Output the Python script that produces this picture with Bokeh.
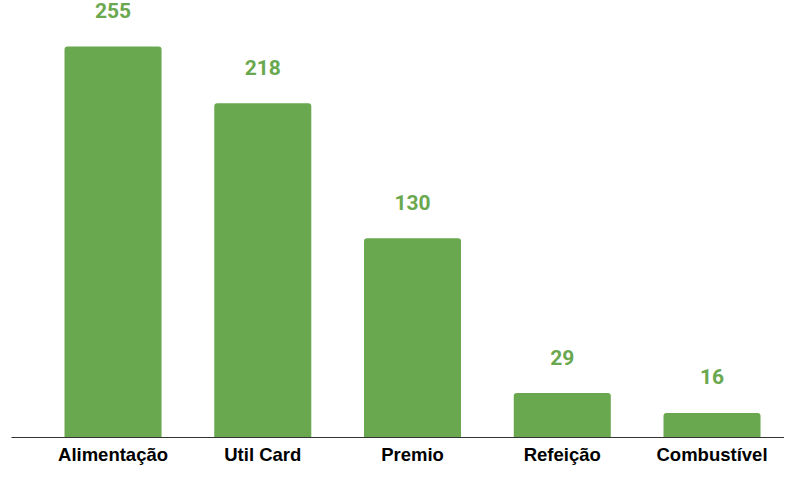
from bokeh.plotting import figure
from bokeh.models import Range1d, FixedTicker, ColumnDataSource
from bokeh.core.properties import value
from bokeh.embed import file_html
from bokeh.resources import INLINE

categories = ["Alimentação", "Util Card", "Premio", "Refeição", "Combustível"]
counts = [255, 218, 130, 29, 16]

GREEN = "#6aa84f"

positions = list(range(len(categories)))
source = ColumnDataSource(dict(
    x=positions,
    top=counts,
    label=[str(v) for v in counts],
))

p = figure(
    width=784, height=467,
    output_backend="svg", toolbar_location=None,
    x_range=Range1d(-0.678, 4.484),
    y_range=Range1d(0, 285.0),
    min_border_left=11, min_border_right=0,
    min_border_top=0, min_border_bottom=25,
    y_axis_location=None,
)

p.vbar(x="x", top="top", width=0.648, source=source,
       fill_color=GREEN, line_color=None, border_radius=(3, 3, 0, 0))

p.text(x="x", y="top", text="label", source=source,
       text_align="center", text_baseline="alphabetic", y_offset=-36,
       text_font=value("Roboto"), text_font_style="bold",
       text_font_size="21px", text_color=GREEN)

p.xaxis.ticker = FixedTicker(ticks=positions)
p.xaxis.major_label_overrides = {i: c for i, c in zip(positions, categories)}
p.xaxis.major_tick_line_color = None
p.xaxis.minor_tick_line_color = None
p.xaxis.major_tick_out = 0
p.xaxis.major_tick_in = 0
p.xaxis.major_label_standoff = 6
p.xaxis.axis_line_color = "#333333"
p.xaxis.axis_line_width = 1
p.xaxis.major_label_text_font = "Liberation Sans"
p.xaxis.major_label_text_font_style = "bold"
p.xaxis.major_label_text_font_size = "18.5px"
p.xaxis.major_label_text_color = "#000000"

p.xgrid.grid_line_color = None
p.ygrid.grid_line_color = None
p.outline_line_color = None
p.background_fill_color = "white"
p.border_fill_color = "white"

open("out.html", "w").write(file_html(p, INLINE))
